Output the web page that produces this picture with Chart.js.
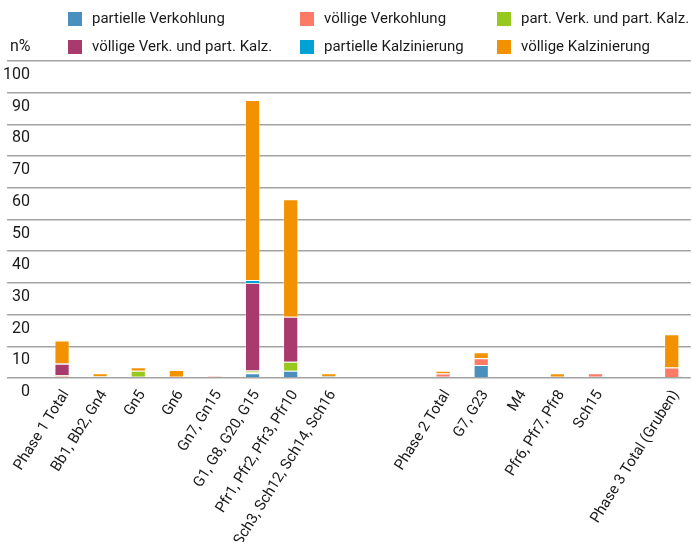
<!DOCTYPE html>
<html>
<head>
<meta charset="utf-8">
<script src="https://cdn.jsdelivr.net/npm/chart.js@4/dist/chart.umd.min.js"></script>
<style>
html,body{margin:0;padding:0;background:#fff;overflow:hidden;width:692px;height:542px;}
#wrap{width:696px;height:542px;}
</style>
</head>
<body>
<div id="wrap"><canvas id="c" width="696" height="542"></canvas></div>
<script>
const categories = ['Phase 1 Total','Bb1, Bb2, Gn4','Gn5','Gn6','Gn7, Gn15','G1, G8, G20, G15','Pfr1, Pfr2, Pfr3, Pfr10','Sch3, Sch12, Sch14, Sch16','','','Phase 2 Total','G7, G23','M4','Pfr6, Pfr7, Pfr8','Sch15','','Phase 3 Total (Gruben)'];
const seriesNames = ['partielle Verkohlung','völlige Verkohlung','part. Verk. und part. Kalz.','völlige Verk. und part. Kalz.','partielle Kalzinierung','völlige Kalzinierung'];
const partielleVerkohlung   = [0.4, 0.2, 0.4, 0.4, 0,   1.5,  2.3,  0.3, null, null, 0.4, 4.1, 0, 0.4, 0.4, null, 0];
const voelligeVerkohlung    = [0.3, 0,   0,   0,   0.6, 0.2,  0,    0,   null, null, 1.0, 2.1, 0, 0,   1.1, null, 3.3];
const partVerkPartKalz      = [0.2, 0,   1.9, 0,   0,   0.7,  2.8,  0,   null, null, 0,   0,   0, 0,   0,   null, 0];
const voelligeVerkPartKalz  = [3.6, 0,   0,   0,   0,   27.6, 14.2, 0,   null, null, 0,   0,   0, 0,   0,   null, 0];
const partielleKalzinierung = [0.1, 0.3, 0,   0,   0,   0.9,  0,    0.2, null, null, 0,   0,   0, 0,   0,   null, 0];
const voelligeKalzinierung  = [7.2, 1.0, 1.1, 2.1, 0,   56.8, 37.1, 1.0, null, null, 0.9, 1.9, 0, 1.1, 0,   null, 10.5];
const yTicks = [0,10,20,30,40,50,60,70,80,90,100];
const yUnit = 'n%';

const colors = ['#4a8fbd','#fd7a66','#96c81e','#a83a6e','#00a2d6','#f39200'];
const seriesData = [partielleVerkohlung, voelligeVerkohlung, partVerkPartKalz, voelligeVerkPartKalz, partielleKalzinierung, voelligeKalzinierung];

const FONT = 'Roboto, "Liberation Sans", sans-serif';
Chart.defaults.font.family = FONT;
Chart.defaults.color = '#1a1a1a';

const legendPlugin = {
  id: 'gridLegend',
  afterDraw(chart) {
    const ctx = chart.ctx;
    ctx.save();
    const colX = [68, 300, 497];
    const rowY = [19, 47];
    ctx.font = '15px ' + FONT;
    ctx.textBaseline = 'middle';
    ctx.textAlign = 'left';
    chart.data.datasets.forEach((ds, i) => {
      const col = i % 3, row = Math.floor(i / 3);
      const x = colX[col], y = rowY[row];
      ctx.fillStyle = ds.backgroundColor;
      ctx.fillRect(x, y - 7, 14, 14);
      ctx.fillStyle = '#1a1a1a';
      ctx.fillText(ds.label, x + 24, y);
    });
    ctx.font = '16px ' + FONT;
    ctx.fillText(yUnit, 10, 47);
    ctx.restore();
  }
};

new Chart(document.getElementById('c'), {
  type: 'bar',
  data: {
    labels: categories,
    datasets: seriesData.map((d, i) => ({
      label: seriesNames[i],
      data: d,
      backgroundColor: colors[i],
      borderColor: 'rgba(255,255,255,0.35)',
      borderWidth: (c) => (c.raw ? 1 : 0),
      categoryPercentage: 1,
      barPercentage: 0.4
    }))
  },
  options: {
    responsive: false,
    animation: false,
    layout: { padding: { top: 61, left: 0, right: 0, bottom: 0 } },
    plugins: { legend: { display: false }, tooltip: { enabled: false } },
    scales: {
      x: {
        stacked: true,
        grid: { display: false, drawTicks: false },
        border: { display: false },
        ticks: {
          autoSkip: false,
          maxRotation: 58,
          minRotation: 58,
          padding: 9,
          labelOffset: 4,
          font: { size: 15 },
          color: '#1a1a1a'
        },
        afterFit: (s) => { s.height = 164; }
      },
      y: {
        stacked: true,
        min: 0,
        max: 100,
        afterBuildTicks: (s) => { s.ticks = yTicks.map(v => ({ value: v })); },
        grid: { color: '#a3a3a3', lineWidth: 1.5, drawTicks: true, tickLength: 36, tickColor: '#a3a3a3' },
        border: { display: false },
        ticks: {
          padding: -23,
          labelOffset: 14,
          font: { size: 16 },
          color: '#1a1a1a'
        },
        afterFit: (s) => { s.width = 43; }
      }
    }
  },
  plugins: [legendPlugin]
});
</script>
</body>
</html>
